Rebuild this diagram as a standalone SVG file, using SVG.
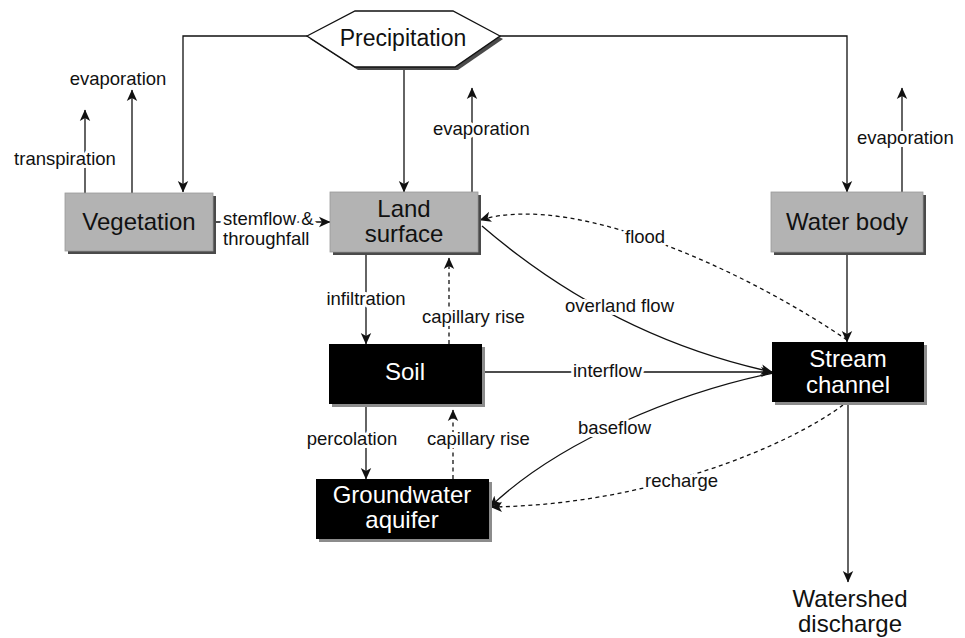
<svg xmlns="http://www.w3.org/2000/svg" width="965" height="638" viewBox="0 0 965 638">
<style>
  .bg { fill: #ffffff; }
  .gray { fill: #b3b3b3; stroke: #9a9a9a; stroke-width: 0.8; }
  .grayShadow { fill: #4a4a4a; }
  .black { fill: #000000; }
  .blackShadow { fill: #8c8c8c; }
  .node { font-family: "Liberation Sans", Arial, sans-serif; font-size: 24px; text-anchor: middle; fill: #111; }
  .nodeW { font-family: "Liberation Sans", Arial, sans-serif; font-size: 24px; text-anchor: middle; fill: #ffffff; }
  .lbl { font-family: "Liberation Sans", Arial, sans-serif; font-size: 18.5px; fill: #111; stroke: #ffffff; stroke-width: 6px; stroke-linejoin: round; paint-order: stroke; }
  .mid { text-anchor: middle; }
  .ln { fill: none; stroke: #111; stroke-width: 1.3; }
  .dash { fill: none; stroke: #111; stroke-width: 1.3; stroke-dasharray: 4 3.5; }
</style>
<defs>
  <marker id="ah" viewBox="0 0 12 12" refX="11" refY="6" markerWidth="12" markerHeight="12" markerUnits="userSpaceOnUse" orient="auto">
    <path d="M0,0.8 L11.5,6 L0,11.2 L3,6 z" fill="#111"/>
  </marker>
</defs>
<rect class="bg" x="0" y="0" width="965" height="638"/>

<g id="connectors">
  <polyline class="ln" points="307,36 183,36 183,192" marker-end="url(#ah)"/>
  <line class="ln" x1="404" y1="67" x2="404" y2="192" marker-end="url(#ah)"/>
  <polyline class="ln" points="500,36 847,36 847,192" marker-end="url(#ah)"/>
  <line class="ln" x1="132" y1="193" x2="132" y2="90" marker-end="url(#ah)"/>
  <line class="ln" x1="85" y1="193" x2="85" y2="110" marker-end="url(#ah)"/>
  <line class="ln" x1="216" y1="222" x2="330" y2="222" marker-end="url(#ah)"/>
  <line class="ln" x1="472" y1="192" x2="472" y2="88" marker-end="url(#ah)"/>
  <line class="ln" x1="902" y1="192" x2="902" y2="88" marker-end="url(#ah)"/>
  <line class="ln" x1="366" y1="255" x2="366" y2="344" marker-end="url(#ah)"/>
  <line class="dash" x1="449" y1="344" x2="449" y2="258" marker-end="url(#ah)"/>
  <line class="ln" x1="366" y1="407" x2="366" y2="479" marker-end="url(#ah)"/>
  <line class="dash" x1="453" y1="479" x2="453" y2="410" marker-end="url(#ah)"/>
  <line class="ln" x1="485" y1="372" x2="772" y2="372" marker-end="url(#ah)"/>
  <path class="ln" d="M482,226 Q611,337 772,372" marker-end="url(#ah)"/>
  <path class="ln" d="M773,373 C680,392 560,440 490,507" marker-end="url(#ah)"/>
  <path class="dash" d="M847,340 C760,280 580,190 480,220" marker-end="url(#ah)"/>
  <path class="dash" d="M843,405 C790,445 650,505 491,507" marker-end="url(#ah)"/>
  <line class="ln" x1="847" y1="255" x2="847" y2="342" marker-end="url(#ah)"/>
  <line class="ln" x1="848" y1="405" x2="848" y2="582" marker-end="url(#ah)"/>
  <text class="lbl mid" x="118" y="85">evaporation</text>
  <text class="lbl mid" x="65" y="165">transpiration</text>
  <text class="lbl" x="223" y="225">stemflow &amp;</text>
  <text class="lbl" x="223" y="245">throughfall</text>
  <text class="lbl" x="433" y="135">evaporation</text>
  <text class="lbl" x="857" y="144">evaporation</text>
  <text class="lbl mid" x="366" y="305">infiltration</text>
  <text class="lbl" x="422" y="323">capillary rise</text>
  <text class="lbl mid" x="352" y="445">percolation</text>
  <text class="lbl" x="427" y="445">capillary rise</text>
  <text class="lbl" x="565" y="312">overland flow</text>
  <text class="lbl" x="573" y="377">interflow</text>
  <text class="lbl" x="625" y="243">flood</text>
  <text class="lbl" x="578" y="434">baseflow</text>
  <text class="lbl" x="645" y="487">recharge</text>
</g>

<g id="precipitation">
  <polygon class="grayShadow" points="310,39 358,14 456,14 503,39 458,70 358,70"/>
  <polygon points="307,36 355,11 453,11 500,36 455,67 355,67" fill="#ffffff" stroke="#111" stroke-width="1.3"/>
  <text class="node" x="403" y="46" style="font-size:23px">Precipitation</text>
</g>

<g id="vegetation">
  <rect class="grayShadow" x="68" y="196" width="148" height="58"/>
  <rect class="gray" x="65" y="193" width="148" height="58"/>
  <text class="node" x="139" y="230">Vegetation</text>
</g>

<g id="land-surface">
  <rect class="grayShadow" x="333" y="195" width="148" height="60"/>
  <rect class="gray" x="330" y="192" width="148" height="60"/>
  <text class="node" x="404" y="217">Land</text>
  <text class="node" x="404" y="242">surface</text>
</g>

<g id="water-body">
  <rect class="grayShadow" x="774" y="195" width="152" height="60"/>
  <rect class="gray" x="771" y="192" width="152" height="60"/>
  <text class="node" x="847" y="230">Water body</text>
</g>

<g id="soil">
  <rect class="blackShadow" x="332" y="347" width="153" height="60"/>
  <rect class="black" x="329" y="344" width="153" height="60"/>
  <text class="nodeW" x="405" y="380">Soil</text>
</g>

<g id="groundwater-aquifer">
  <rect class="blackShadow" x="319" y="482" width="173" height="60"/>
  <rect class="black" x="316" y="479" width="173" height="60"/>
  <text class="nodeW" x="402" y="503">Groundwater</text>
  <text class="nodeW" x="402" y="528">aquifer</text>
</g>

<g id="stream-channel">
  <rect class="blackShadow" x="775" y="345" width="152" height="60"/>
  <rect class="black" x="772" y="342" width="152" height="60"/>
  <text class="nodeW" x="848" y="367">Stream</text>
  <text class="nodeW" x="848" y="393">channel</text>
</g>

<g id="watershed-discharge">
  <text class="node" x="850" y="607">Watershed</text>
  <text class="node" x="850" y="632">discharge</text>
</g>
</svg>
